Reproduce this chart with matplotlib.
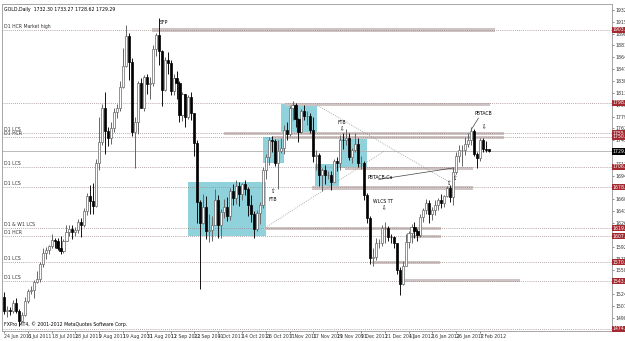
import matplotlib
matplotlib.use("Agg")
import matplotlib.pyplot as plt
import numpy as np
import pandas as pd

# bar dates (FXPro feed: no bars on 26 Dec and 2 Jan)
dates = [d for d in pd.bdate_range("2011-06-24", "2012-02-10")
         if d.strftime("%m-%d") not in ("12-26", "01-02")]

opens = [1520, 1500, 1501, 1500, 1511, 1500, 1486, 1495, 1515, 1529, 1530, 1542, 1546, 1567, 1584, 1588,
         1593, 1602, 1601, 1590, 1586, 1601, 1614, 1618, 1614, 1616, 1628, 1623, 1644, 1665, 1658, 1651,
         1713, 1743, 1792, 1759, 1748, 1763, 1786, 1792, 1822, 1852, 1895, 1858, 1757, 1771, 1828, 1792,
         1836, 1826, 1827, 1877, 1896, 1873, 1817, 1861, 1856, 1816, 1835, 1827, 1781, 1812, 1779, 1807,
         1784, 1741, 1656, 1627, 1650, 1615, 1617, 1624, 1660, 1623, 1642, 1650, 1636, 1672, 1663, 1680,
         1668, 1682, 1675, 1653, 1640, 1618, 1641, 1652, 1703, 1721, 1745, 1744, 1712, 1730, 1734, 1760,
         1754, 1791, 1796, 1776, 1757, 1788, 1780, 1780, 1760, 1722, 1724, 1696, 1702, 1695, 1696, 1686,
         1716, 1712, 1746, 1745, 1748, 1721, 1731, 1740, 1712, 1712, 1667, 1633, 1576, 1578, 1597, 1598,
         1619, 1619, 1607, 1606, 1597, 1559, 1539, 1565, 1599, 1612, 1620, 1615, 1609, 1635, 1645, 1655,
         1640, 1645, 1653, 1660, 1655, 1665, 1677, 1664, 1700, 1723, 1731, 1731, 1740, 1745, 1758, 1725,
         1720, 1745, 1733, 1732.30]
highs = [1527, 1507, 1506, 1516, 1518, 1503, 1498, 1520, 1531, 1536, 1545, 1557, 1571, 1590, 1592, 1595,
         1610, 1605, 1605, 1608, 1604, 1623, 1624, 1624, 1621, 1632, 1633, 1648, 1669, 1681, 1684, 1718,
         1778, 1798, 1815, 1764, 1772, 1791, 1798, 1830, 1878, 1911, 1899, 1864, 1779, 1830, 1834, 1839,
         1840, 1836, 1882, 1900, 1921, 1875, 1865, 1872, 1860, 1840, 1845, 1830, 1815, 1812, 1810, 1815,
         1785, 1746, 1660, 1668, 1665, 1640, 1636, 1675, 1667, 1647, 1661, 1664, 1676, 1682, 1688, 1685,
         1684, 1688, 1678, 1667, 1644, 1645, 1657, 1707, 1725, 1750, 1751, 1747, 1745, 1748, 1767, 1771,
         1794, 1802, 1799, 1777, 1790, 1796, 1787, 1785, 1778, 1732, 1727, 1705, 1710, 1701, 1701, 1718,
         1721, 1753, 1755, 1761, 1755, 1734, 1756, 1748, 1723, 1715, 1670, 1637, 1590, 1605, 1604, 1623,
         1628, 1622, 1611, 1608, 1598, 1563, 1572, 1611, 1615, 1625, 1628, 1618, 1640, 1648, 1661, 1660,
         1649, 1660, 1663, 1668, 1667, 1680, 1681, 1707, 1728, 1738, 1739, 1750, 1756, 1764, 1761, 1728,
         1749, 1748, 1744, 1733.27]
lows = [1496, 1492, 1494, 1497, 1497, 1478, 1484, 1493, 1511, 1524, 1519, 1540, 1542, 1563, 1575, 1582,
        1591, 1590, 1587, 1582, 1584, 1600, 1608, 1603, 1608, 1612, 1606, 1620, 1638, 1640, 1640, 1650,
        1702, 1738, 1726, 1737, 1740, 1757, 1777, 1788, 1820, 1850, 1832, 1751, 1706, 1754, 1791, 1787,
        1812, 1805, 1823, 1866, 1854, 1795, 1816, 1840, 1811, 1810, 1805, 1772, 1773, 1765, 1776, 1774,
        1722, 1627, 1532, 1625, 1603, 1599, 1600, 1623, 1605, 1605, 1633, 1630, 1631, 1652, 1654, 1651,
        1660, 1666, 1637, 1628, 1605, 1615, 1625, 1648, 1690, 1710, 1729, 1709, 1675, 1727, 1725, 1746,
        1752, 1775, 1765, 1743, 1755, 1774, 1767, 1755, 1714, 1702, 1680, 1672, 1682, 1690, 1674, 1685,
        1701, 1703, 1733, 1739, 1717, 1712, 1728, 1707, 1704, 1659, 1627, 1568, 1564, 1573, 1590, 1593,
        1597, 1601, 1597, 1590, 1553, 1523, 1537, 1564, 1590, 1597, 1605, 1600, 1606, 1628, 1640, 1627,
        1631, 1638, 1645, 1648, 1650, 1664, 1657, 1653, 1697, 1714, 1709, 1724, 1735, 1738, 1723, 1706,
        1716, 1728, 1728, 1728.62]
closes = [1500, 1501, 1500, 1511, 1500, 1486, 1495, 1515, 1529, 1530, 1542, 1546, 1567, 1584, 1588, 1593,
          1602, 1601, 1590, 1586, 1601, 1614, 1618, 1614, 1616, 1628, 1623, 1644, 1665, 1658, 1651, 1713,
          1743, 1792, 1759, 1748, 1763, 1786, 1792, 1822, 1852, 1895, 1858, 1757, 1771, 1828, 1792, 1836,
          1826, 1827, 1877, 1896, 1873, 1817, 1861, 1856, 1816, 1835, 1827, 1781, 1812, 1779, 1807, 1784,
          1741, 1656, 1627, 1650, 1615, 1617, 1624, 1660, 1623, 1642, 1650, 1636, 1672, 1663, 1680, 1668,
          1682, 1675, 1653, 1640, 1618, 1641, 1652, 1703, 1721, 1745, 1744, 1712, 1730, 1734, 1760, 1754,
          1791, 1796, 1776, 1757, 1788, 1780, 1780, 1760, 1722, 1724, 1696, 1702, 1695, 1696, 1686, 1716,
          1712, 1746, 1745, 1748, 1721, 1731, 1740, 1712, 1712, 1667, 1633, 1576, 1578, 1597, 1598, 1619,
          1619, 1607, 1606, 1597, 1559, 1539, 1565, 1599, 1612, 1620, 1615, 1609, 1635, 1645, 1655, 1640,
          1645, 1653, 1660, 1655, 1665, 1677, 1664, 1700, 1723, 1731, 1731, 1740, 1745, 1758, 1725, 1720,
          1745, 1733, 1732, 1729.29]

# horizontal levels (price) and their left-side names
levels = [1903.7, 1798.8, 1755.7, 1750.0, 1706.9, 1678.1, 1619.2, 1607.7, 1570.4, 1543.1, 1474.2]
level_names = ["D1 HCR Market high", "", "D1 LCS", "D1 HCR", "D1 LCS", "D1 LCS",
               "D1 & W1 LCS", "D1 HCR", "D1 LCS", "D1 LCS", ""]
last_price = 1729.29

# cyan boxes: first bar, last bar, low, high
boxes = [(61.8, 88.0, 1607.7, 1685.3), (87.0, 94.1, 1712.6, 1750.0), (93.1, 105.2, 1755.7, 1797.4),
         (104.5, 112.6, 1676.7, 1711.2), (112.6, 122.0, 1705.4, 1751.4)]
# grey zone bands: first bar, last bar, low, high
bands = [(49.8, 165.0, 1900.5, 1906.5), (94.5, 163.4, 1795.0, 1799.5), (74.0, 168.0, 1753.5, 1757.5),
         (90.0, 168.0, 1747.5, 1751.5), (114.6, 157.6, 1702.0, 1706.5), (103.5, 157.6, 1674.5, 1679.0),
         (87.0, 147.0, 1616.0, 1621.0), (135.0, 147.0, 1605.0, 1609.5), (123.7, 146.6, 1568.0, 1572.5),
         (133.0, 173.5, 1541.5, 1546.0)]

fig = plt.figure(figsize=(6.25, 3.41), dpi=100)
ax = fig.add_axes([2 / 625, 10 / 341, 610 / 625, 327 / 341])
ax.set_xlim(-0.67, 204.4)
ax.set_ylim(1471.3, 1941.0)

x = np.arange(len(closes))
o = np.array(opens); h = np.array(highs); l = np.array(lows); c = np.array(closes)

for x0, x1, lo, hi in boxes:
    ax.add_patch(plt.Rectangle((x0, lo), x1 - x0, hi - lo, color="#8fd2dc", lw=0, zorder=1))
for x0, x1, lo, hi in bands:
    ax.add_patch(plt.Rectangle((x0, lo), x1 - x0, hi - lo, color="#cfc4c4", lw=0, zorder=1))

for lv, name in zip(levels, level_names):
    ax.axhline(lv, color="#a08a8a", lw=0.6, ls=(0, (1, 1.5)), zorder=2)
    if name:
        ax.text(0.0, lv + 1.5, name, fontsize=3.3, color="#333333", va="bottom", ha="left", zorder=5)
    ax.text(1.001, lv, f"{lv:.2f}", transform=ax.get_yaxis_transform(), fontsize=3.3, color="white",
            va="center", ha="left", zorder=6,
            bbox=dict(boxstyle="square,pad=0.15", fc="#a3282f", ec="none"))
ax.axhline(last_price, color="#b0b0b0", lw=0.6, zorder=2)
ax.text(1.001, last_price, f"{last_price:.2f}", transform=ax.get_yaxis_transform(), fontsize=3.3,
        color="white", va="center", ha="left", zorder=6,
        bbox=dict(boxstyle="square,pad=0.15", fc="black", ec="none"))

# diagonal helper lines
ax.plot([105.2, 150.0], [1795.9, 1684.5], color="#9a9a9a", lw=0.6, ls=(0, (1, 1.5)), zorder=2)
ax.plot([88.0, 128.0], [1620.0, 1730.0], color="#9a9a9a", lw=0.6, ls=(0, (1, 1.5)), zorder=2)
ax.plot([126.0, 151.0], [1689.0, 1705.5], color="#444444", lw=0.5, zorder=3)
ax.plot([157.0, 159.5], [1760.0, 1777.0], color="#444444", lw=0.5, zorder=3)

# candles
up = c >= o
wick_col = np.where(up, "#666666", "#111111")
ax.vlines(x, l, h, colors=wick_col, lw=0.7, zorder=3)
body_lo = np.minimum(o, c)
body_h = np.maximum(np.abs(c - o), 0.8)
ax.bar(x[up], body_h[up], bottom=body_lo[up], width=0.7, color="white", edgecolor="#666666",
       linewidth=0.5, zorder=4)
ax.bar(x[~up], body_h[~up], bottom=body_lo[~up], width=0.7, color="black", edgecolor="black",
       linewidth=0.5, zorder=4)

# annotations
tfs = 3.3
ax.text(52.4, 1915, "SFP", fontsize=tfs, ha="left", va="center", zorder=5)
ax.text(113.6, 1771.5, "FTB", fontsize=tfs, ha="center", va="center", zorder=5)
ax.text(113.6, 1761, "⇩", fontsize=4, ha="center", va="center", zorder=5)
ax.text(90.4, 1660, "FTB", fontsize=tfs, ha="center", va="center", zorder=5)
ax.text(90.4, 1671, "⇧", fontsize=4, ha="center", va="center", zorder=5)
ax.text(126.5, 1692.5, "PBTACB-Ca", fontsize=tfs, ha="center", va="center", zorder=5)
ax.text(127.4, 1657, "WLCS TT", fontsize=tfs, ha="center", va="center", zorder=5)
ax.text(127.4, 1647, "⇩", fontsize=4, ha="center", va="center", zorder=5)
ax.text(161.3, 1784.4, "PBTACB", fontsize=tfs, ha="center", va="center", zorder=5)
ax.text(161.3, 1764, "⇩", fontsize=4, ha="center", va="center", zorder=5)
ax.text(149.5, 1683, "⇧", fontsize=4, ha="center", va="center", zorder=5)
ax.text(151.5, 1691, "⇧", fontsize=4, ha="center", va="center", zorder=5)

ax.text(0.004, 0.99, "GOLD,Daily  1732.30 1733.27 1728.62 1729.29", transform=ax.transAxes,
        fontsize=3.3, va="top", ha="left", zorder=6)
ax.text(0.0, 1477.5, "FXPro MT4, © 2001-2012 MetaQuotes Software Corp.", fontsize=3.3,
        va="bottom", ha="left", zorder=6)

# axes look
ax.yaxis.tick_right()
ax.set_yticks(np.arange(1932.4, 1471, -17.0))
ax.yaxis.set_major_formatter(matplotlib.ticker.FormatStrFormatter("%.2f"))
ax.tick_params(axis="y", labelsize=3.3, length=1.5, width=0.4, pad=1, colors="#333333")
tick_idx = list(range(0, len(dates), 8))
ax.set_xticks(tick_idx)
ax.set_xticklabels([dates[i].strftime("%-d %b %Y") for i in tick_idx], ha="left")
ax.tick_params(axis="x", labelsize=3.3, length=1.5, width=0.4, pad=1, colors="#333333")
for s in ax.spines.values():
    s.set_color("#999999")
    s.set_linewidth(0.6)

fig.savefig("out.png", dpi=100)
